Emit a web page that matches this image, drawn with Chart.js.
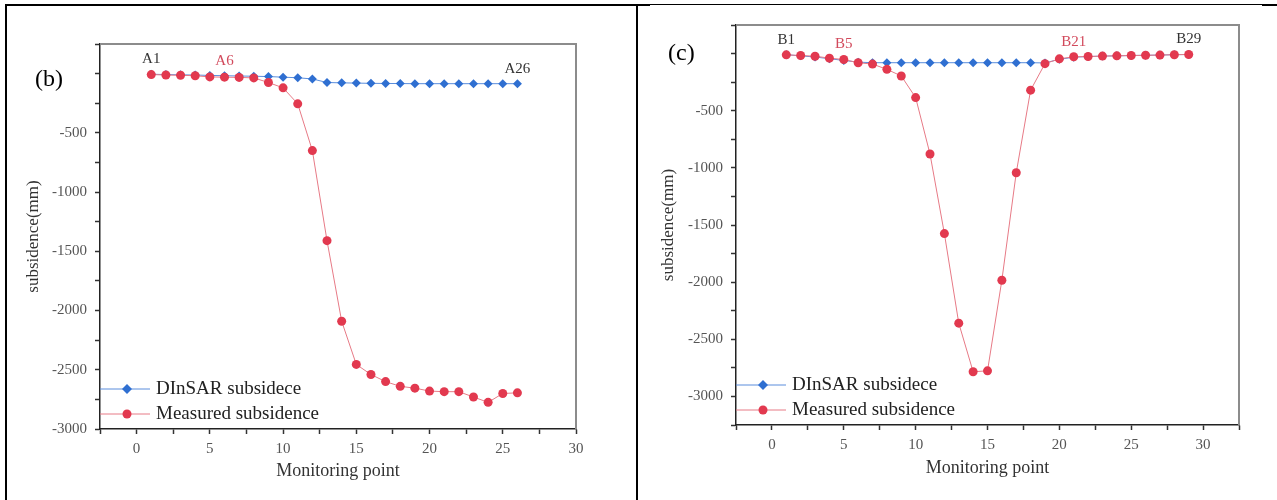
<!DOCTYPE html>
<html>
<head>
<meta charset="utf-8">
<script src="https://cdn.jsdelivr.net/npm/chart.js@4.4.1/dist/chart.umd.min.js"></script>
<style>
  body { margin: 0; background: #fff; }
  #page { position: relative; width: 1277px; height: 500px; overflow: hidden; background: #fff; }
  .rule { position: absolute; background: #000; }
  canvas { position: absolute; }
</style>
</head>
<body>
<div id="page">
  <!-- table borders -->
  <div class="rule" style="left:5px;top:4px;width:645px;height:2px"></div>
  <div class="rule" style="left:650px;top:4px;width:612px;height:1px"></div>
  <div class="rule" style="left:1262px;top:4px;width:15px;height:2px"></div>
  <div class="rule" style="left:5px;top:4px;width:2px;height:496px"></div>
  <div class="rule" style="left:636px;top:4px;width:2px;height:496px"></div>

  <canvas id="chartB" width="626" height="492" style="left:8px;top:8px"></canvas>
  <canvas id="chartC" width="638" height="492" style="left:639px;top:8px"></canvas>
</div>
<script>
// panel (b) - monitoring points A1..A26
const pointsB = [1, 2, 3, 4, 5, 6, 7, 8, 9, 10, 11, 12, 13, 14, 15, 16, 17, 18, 19, 20, 21, 22, 23, 24, 25, 26];
const dinsarB = [-5, -8, -10, -12, -15, -18, -20, -22, -25, -30, -35, -45, -75, -78, -80, -82, -83, -84, -85, -85, -85, -85, -85, -85, -85, -85];
const measuredB = [-8, -12, -14, -18, -28, -30, -32, -36, -75, -120, -255, -650, -1410, -2090, -2455, -2540, -2600, -2640, -2655, -2680, -2685, -2685, -2730, -2775, -2700, -2695];
const namesB = ['A1', 'A6', 'A26'];
const nameIdxB = [1, 6, 26];

// panel (c) - monitoring points B1..B29
const pointsC = [1, 2, 3, 4, 5, 6, 7, 8, 9, 10, 11, 12, 13, 14, 15, 16, 17, 18, 19, 20, 21, 22, 23, 24, 25, 26, 27, 28, 29];
const dinsarC = [-10, -20, -30, -45, -60, -75, -80, -80, -80, -80, -80, -80, -80, -80, -80, -80, -80, -80, -82, -50, -32, -26, -22, -20, -17, -15, -13, -10, -8];
const measuredC = [-11, -17, -23, -40, -52, -80, -92, -138, -196, -385, -879, -1575, -2359, -2784, -2776, -1983, -1043, -320, -88, -46, -28, -26, -22, -20, -17, -15, -13, -10, -8];
const namesC = ['B1', 'B5', 'B21', 'B29'];
const nameIdxC = [1, 5, 21, 29];

const seriesNames = ['DInSAR subsidece', 'Measured subsidence'];

const SERIF = '"Liberation Serif", "Times New Roman", serif';
const RED = '#e2394f';
const RED_LINE = '#e77a86';
const BLUE = '#2f6fd1';
const BLUE_LINE = '#5a8ddc';
const NAME_RED = '#d24a5c';

Chart.defaults.font.family = SERIF;
Chart.defaults.color = '#555';

// frame, panel tag, point names and the in-plot legend
const decor = {
    id: 'decor',
    afterDraw(chart, args, opts) {
        const { ctx, chartArea: a } = chart;
        ctx.save();

        ctx.strokeStyle = '#8c8c8c';
        ctx.lineWidth = 2;
        ctx.beginPath();
        ctx.moveTo(a.left, a.top);
        ctx.lineTo(a.right, a.top);
        ctx.lineTo(a.right, a.bottom);
        ctx.stroke();

        ctx.fillStyle = '#000';
        ctx.font = '24px ' + SERIF;
        ctx.textAlign = 'left';
        ctx.textBaseline = 'middle';
        ctx.fillText(opts.tag, a.left + opts.tagDx, a.top + opts.tagDy);

        ctx.font = '15px ' + SERIF;
        ctx.textAlign = 'center';
        const m0 = chart.getDatasetMeta(0).data;
        const m1 = chart.getDatasetMeta(1).data;
        opts.names.forEach((name, i) => {
            const k = opts.nameIdx[i] - 1;
            const y = Math.min(m0[k].y, m1[k].y);
            // first and last point names are dark, the others red
            ctx.fillStyle = i === 0 || i === opts.names.length - 1 ? '#333' : NAME_RED;
            ctx.fillText(name, m0[k].x, y - 15);
        });

        chart.data.datasets.forEach((ds, i) => {
            const y = a.bottom - 40 + i * 25;
            const x0 = a.left;
            ctx.strokeStyle = ds.borderColor;
            ctx.lineWidth = 1;
            ctx.beginPath();
            ctx.moveTo(x0, y);
            ctx.lineTo(x0 + 50, y);
            ctx.stroke();

            ctx.fillStyle = ds.pointBackgroundColor;
            ctx.beginPath();
            if (ds.pointStyle === 'rectRot') {
                ctx.moveTo(x0 + 27, y - 5);
                ctx.lineTo(x0 + 32, y);
                ctx.lineTo(x0 + 27, y + 5);
                ctx.lineTo(x0 + 22, y);
                ctx.closePath();
            } else {
                ctx.arc(x0 + 27, y, 4.5, 0, Math.PI * 2);
            }
            ctx.fill();

            ctx.fillStyle = '#222';
            ctx.font = '19px ' + SERIF;
            ctx.textAlign = 'left';
            ctx.fillText(ds.label, x0 + 56, y);
        });

        ctx.restore();
    }
};

function buildChart(id, xs, dinsar, measured, names, nameIdx, view) {
    return new Chart(document.getElementById(id), {
        type: 'line',
        data: {
            datasets: [{
                label: seriesNames[0],
                data: xs.map((x, i) => ({ x, y: dinsar[i] })),
                borderColor: BLUE_LINE,
                borderWidth: 1,
                pointStyle: 'rectRot',
                pointRadius: 4.5,
                pointBackgroundColor: BLUE,
                pointBorderColor: BLUE,
                pointBorderWidth: 0,
                order: 1
            }, {
                label: seriesNames[1],
                data: xs.map((x, i) => ({ x, y: measured[i] })),
                borderColor: RED_LINE,
                borderWidth: 1,
                pointStyle: 'circle',
                pointRadius: 4.5,
                pointBackgroundColor: RED,
                pointBorderColor: RED,
                pointBorderWidth: 0,
                order: 0
            }]
        },
        options: {
            responsive: false,
            animation: false,
            layout: { padding: view.pad },
            plugins: {
                legend: { display: false },
                tooltip: { enabled: false },
                decor: { tag: view.tag, tagDx: view.tagDx, tagDy: view.tagDy, names, nameIdx }
            },
            scales: {
                x: {
                    type: 'linear',
                    min: -2.5,
                    max: view.xMax,
                    afterFit: s => { s.height = view.xHeight; },
                    ticks: {
                        stepSize: 2.5,
                        maxTicksLimit: 100,
                        autoSkip: false,
                        maxRotation: 0,
                        padding: 6,
                        font: { size: 15 },
                        callback: v => (v % 5 === 0 ? String(v) : '')
                    },
                    grid: { drawOnChartArea: false, tickLength: 5, tickColor: '#333', tickWidth: 1.5 },
                    border: { color: '#222', width: 1.5 },
                    title: { display: true, text: 'Monitoring point', color: '#333', font: { size: 18 }, padding: 0 }
                },
                y: {
                    min: view.yMin,
                    max: 250,
                    afterFit: s => { s.width = view.yWidth; },
                    ticks: {
                        stepSize: 250,
                        maxTicksLimit: 100,
                        autoSkip: false,
                        padding: 8,
                        font: { size: 15 },
                        // the zero line has a tick but no label in the original
                        callback: v => (v % 500 === 0 && v !== 0 ? String(v) : '')
                    },
                    grid: { drawOnChartArea: false, tickLength: 5, tickColor: '#333', tickWidth: 1.5 },
                    border: { color: '#222', width: 1.5 },
                    title: { display: true, text: 'subsidence(mm)', color: '#333', font: { size: 17 }, padding: { top: view.yTitlePad, bottom: 0 } }
                }
            }
        },
        plugins: [decor]
    });
}

buildChart('chartB', pointsB, dinsarB, measuredB, namesB, nameIdxB, {
    tag: '(b)', tagDx: -65, tagDy: 36,
    xMax: 30, yMin: -3000,
    pad: { left: 0, top: 36, right: 58, bottom: 18 },
    yWidth: 92, xHeight: 53, yTitlePad: 15
});

buildChart('chartC', pointsC, dinsarC, measuredC, namesC, nameIdxC, {
    tag: '(c)', tagDx: -68, tagDy: 29,
    xMax: 32.5, yMin: -3250,
    pad: { left: 0, top: 11, right: 38, bottom: 21 },
    yWidth: 97, xHeight: 54, yTitlePad: 19
});
</script>
</body>
</html>
